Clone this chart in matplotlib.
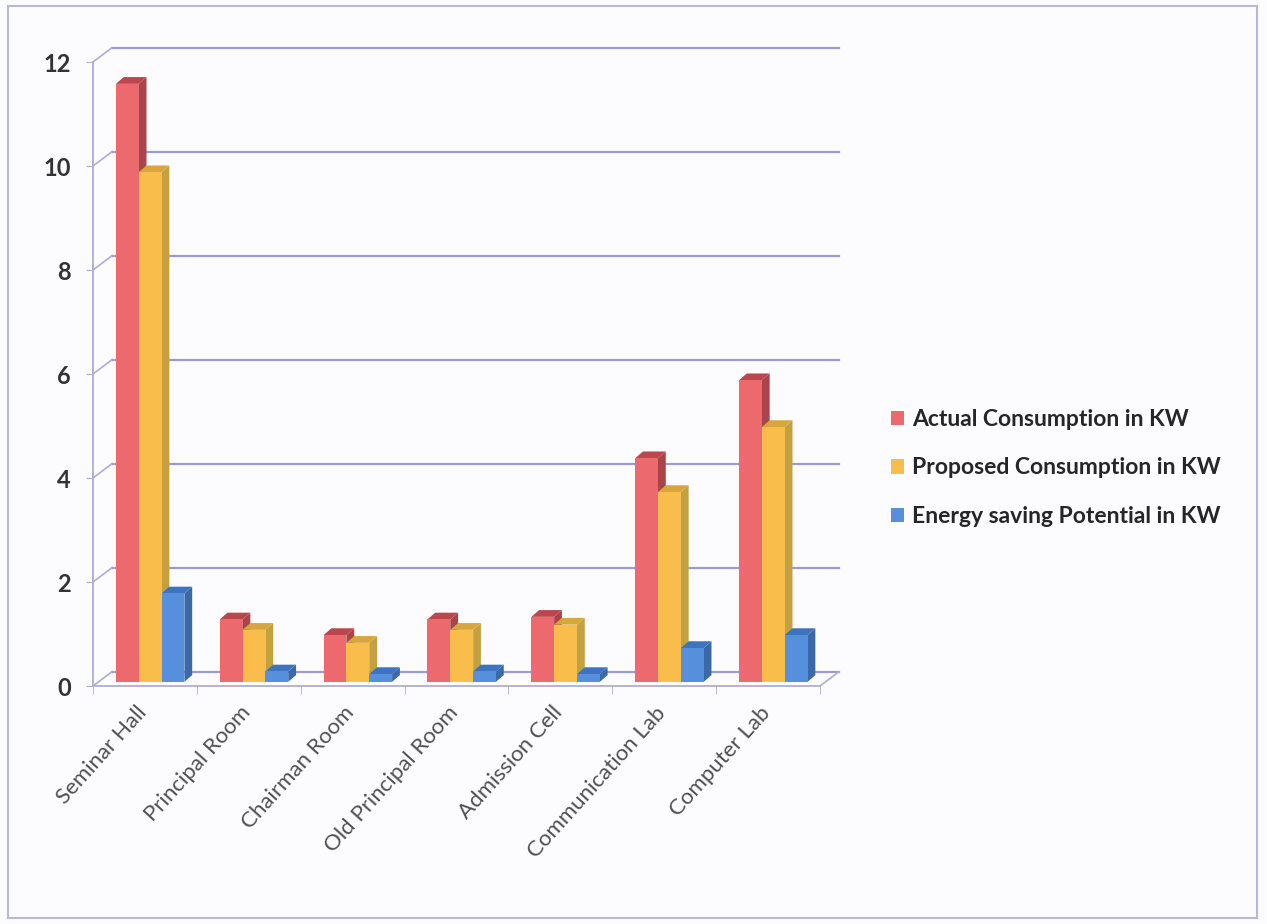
import matplotlib.pyplot as plt
from matplotlib.patches import Polygon, Rectangle
from matplotlib.transforms import ScaledTranslation

rooms = ['Seminar Hall', 'Principal Room', 'Chairman Room', 'Old Principal Room',
         'Admission Cell', 'Communication Lab', 'Computer Lab']
actual = [11.5, 1.2, 0.9, 1.2, 1.25, 4.3, 5.8]
proposed = [9.8, 1.0, 0.75, 1.0, 1.1, 3.65, 4.9]
saving = [1.7, 0.2, 0.15, 0.2, 0.15, 0.65, 0.9]

series = [
    ('Actual Consumption in KW', actual, '#ec6a6e', '#b9474d', '#a8454b'),
    ('Proposed Consumption in KW', proposed, '#f8bd4a', '#d7a63c', '#c5a040'),
    ('Energy saving Potential in KW', saving, '#5690dd', '#3d74bd', '#3a69a8'),
]

W, H = 1267, 924
fig = plt.figure(figsize=(W / 100, H / 100), dpi=100)
fig.patch.set_facecolor('#fcfbfe')
plt.rcParams['font.family'] = ['Lato', 'DejaVu Sans']

# front plane of the plot area, in pixels
left, right, top, bottom = 93, 820, 62, 686
ax = fig.add_axes([left / W, 1 - bottom / H, (right - left) / W, (bottom - top) / H])
ax.set_xlim(-0.5, len(rooms) - 0.5)
ax.set_ylim(0, 12)
ax.patch.set_alpha(0)

# 3D offsets (data units)
bdx, bdy = 0.18, 0.27      # back wall
pdx, pdy = 0.05, 0.08      # bar plane
ddx, ddy = 0.075, 0.13     # bar depth
grid_c = '#9c9cd2'
axis_c = '#aeaed0'

x0, x1 = -0.5, len(rooms) - 0.5
for v in range(0, 13, 2):
    ax.plot([x0 + bdx, x1 + bdx], [v + bdy, v + bdy], color=grid_c, lw=1.6,
            zorder=1, clip_on=False)
    ax.plot([x0, x0 + bdx], [v, v + bdy], color=axis_c, lw=1.2, zorder=1, clip_on=False)
ax.plot([x1, x1 + bdx], [0, bdy], color=axis_c, lw=1.2, zorder=1, clip_on=False)

bw = 0.22
for i, (name, vals, cf, ct, cs) in enumerate(series):
    xs = [j + (i - 1) * bw + pdx for j in range(len(rooms))]
    ax.bar(xs, vals, width=bw, bottom=pdy, color=cf, zorder=3 + i * 0.01, label=name)
for j in range(len(rooms)):
    for i, (name, vals, cf, ct, cs) in enumerate(series):
        xl = j + (i - 1) * bw + pdx - bw / 2
        xr = xl + bw
        b, t = pdy, pdy + vals[j]
        z = 2 + j * 0.1 + i * 0.01
        ax.add_patch(Polygon([(xr, b), (xr + ddx, b + ddy), (xr + ddx, t + ddy), (xr, t)],
                             closed=True, facecolor=cs, edgecolor='none', zorder=z,
                             clip_on=False))
        ax.add_patch(Polygon([(xl, t), (xr, t), (xr + ddx, t + ddy), (xl + ddx, t + ddy)],
                             closed=True, facecolor=ct, edgecolor='none', zorder=z,
                             clip_on=False))
        ax.add_patch(Rectangle((xl, b), bw, vals[j], facecolor=cf, edgecolor='none',
                               zorder=z + 0.005))

for side in ['top', 'right']:
    ax.spines[side].set_visible(False)
for side in ['left', 'bottom']:
    ax.spines[side].set_color(axis_c)
    ax.spines[side].set_linewidth(1.3)

ax.set_yticks(range(0, 13, 2))
ax.tick_params(axis='y', length=5, color=axis_c, pad=11, labelsize=17, labelcolor='#333333')
for lab in ax.get_yticklabels():
    lab.set_fontweight('bold')
ax.set_xticks(range(len(rooms)))
ax.set_xticklabels(rooms, rotation=48, ha='right', rotation_mode='anchor',
                   fontsize=16, color='#505050')
ax.tick_params(axis='x', length=0, pad=12)
shift = ScaledTranslation(-9 / 100, 0, fig.dpi_scale_trans)
for lab in ax.get_xticklabels():
    lab.set_transform(lab.get_transform() + shift)
ax.set_xticks([k - 0.5 for k in range(len(rooms) + 1)], minor=True)
ax.tick_params(axis='x', which='minor', length=6, color=axis_c)

handles, labels = ax.get_legend_handles_labels()
fig.legend(handles, labels, loc='center left', bbox_to_anchor=(870 / W, 1 - 468 / H),
           frameon=False, prop={'weight': 'bold', 'size': 16.5},
           labelspacing=1.2, handlelength=0.6, handleheight=0.6, handletextpad=0.35,
           labelcolor='#262626')

fig.add_artist(Rectangle((8 / W, 1 - 918 / H), 1249 / W, 912 / H, transform=fig.transFigure,
                         fill=False, edgecolor='#b8b8d8', lw=1.5))

fig.savefig('out.png', dpi=100, facecolor=fig.get_facecolor())
